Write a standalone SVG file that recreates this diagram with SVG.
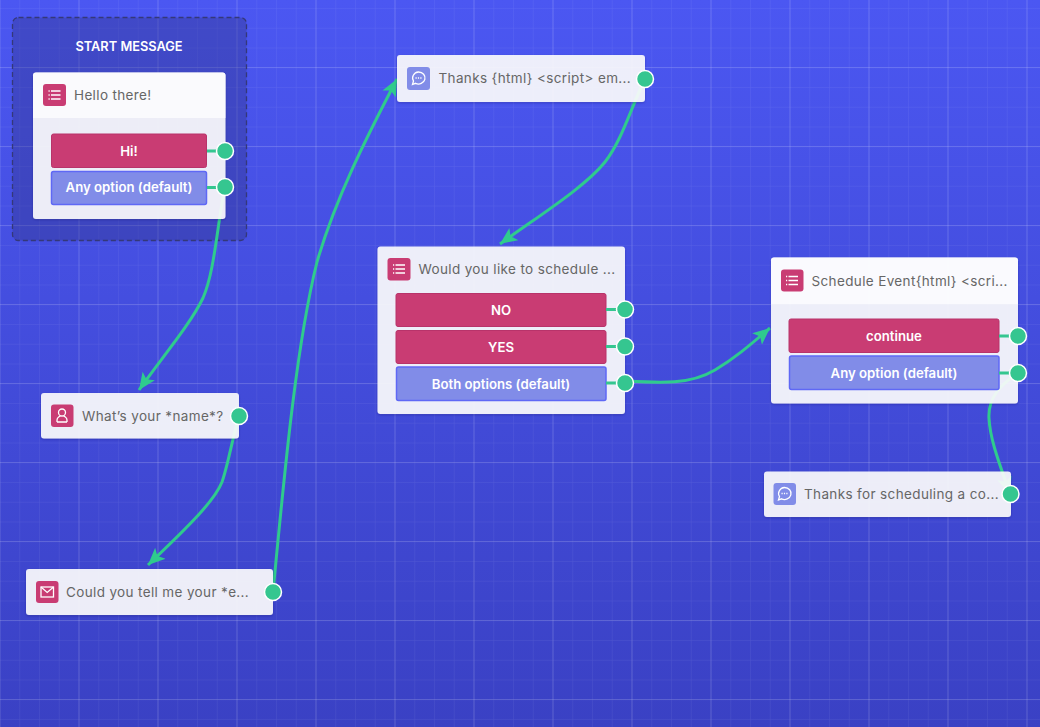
<svg xmlns="http://www.w3.org/2000/svg" width="1040" height="727" viewBox="0 0 1040 727">
<style>
.t{font-family:"Inter","Liberation Sans",sans-serif;font-size:13.5px;fill:#666;letter-spacing:.36px}
.b{font-family:"Inter","Liberation Sans",sans-serif;font-size:13.2px;font-weight:600;fill:#fff;text-anchor:middle}
.card{fill:#fff;fill-opacity:.89;filter:url(#sh)}
.top{fill:#fff;fill-opacity:.72}
.red{fill:#c93c73;stroke:#b8336a;stroke-width:1}
.blu{fill:#818ce8;stroke:#5f68f5;stroke-width:1.5}
.ired{fill:#c93c73}.iblu{fill:#818ce8}
.h{fill:#35c690;stroke:#fff;stroke-width:1.5}
.stub{stroke:#35c690;stroke-width:3;fill:none}
.c{stroke:#2fcb8d;stroke-width:3;fill:none;marker-end:url(#arr)}
.i{stroke:#fff;stroke-width:1.3;fill:none}
</style>
<defs>
<linearGradient id="bg" x1="0" y1="0" x2="0" y2="1"><stop offset="0" stop-color="#4b57f2"/><stop offset="1" stop-color="#3a41c4"/></linearGradient>
<pattern id="minor" width="19.75" height="19.75" patternUnits="userSpaceOnUse" x="-0.5" y="8">
<path d="M0 0V19.75M0 0H19.75" stroke="#fff" stroke-opacity=".09" stroke-width="1" fill="none"/></pattern>
<pattern id="major" width="79" height="79" patternUnits="userSpaceOnUse" x="-0.5" y="-12">
<path d="M0 0V79M0 0H79" stroke="#fff" stroke-opacity=".27" stroke-width="1" fill="none"/></pattern>
<marker id="arr" markerUnits="userSpaceOnUse" markerWidth="20" markerHeight="18" refX="17" refY="8" orient="auto">
<path d="M17 8L0 0.5L4 8L0 15.500Z" fill="#2fcb8d"/></marker>
<filter id="sh" x="-5%" y="-5%" width="110%" height="115%"><feDropShadow dx="0" dy="1" stdDeviation="1" flood-color="#20246a" flood-opacity=".35"/></filter>
<g id="list"><path class="i" d="M-3.500 -4H6M-3.500 0H6M-3.500 4H6M-6 -4H-4.800M-6 0H-4.800M-6 4H-4.800"/></g>
<g id="chat"><path class="i" d="M0 -6.500A6.500 6 0 1 1 -3 4.800L-6 6L-5 2.500A6.500 6 0 0 1 0 -6.500Z"/><path d="M-3 -.500H-1.800M-.6 -.500H.6M1.800 -.500H3" stroke="#fff" stroke-width="1.300" fill="none"/></g>
</defs>
<rect width="1040" height="727" fill="url(#bg)"/>
<rect width="1040" height="727" fill="url(#minor)"/>
<rect width="1040" height="727" fill="url(#major)"/>

<g id="start-region">
<rect x="12.500" y="17.500" width="234" height="223" rx="6" fill="#2e3180" fill-opacity=".36" stroke="#343878" stroke-width="1.300" stroke-dasharray="5 3"/>
<text x="129" y="51" font-family="Inter,'Liberation Sans',sans-serif" font-size="12.800" font-weight="600" fill="#fff" text-anchor="middle">START MESSAGE</text>
</g>

<g id="connectors">
<path class="c" d="M225 187C217 225 215 270 203 298C190 325 160 360 139 390"/>
<path class="c" d="M239 416C232 440 228 465 222 482C215 500 190 525 148 565"/>
<path class="c" d="M273 592C283 490 295 350 317 262C335 200 365 140 397 79"/>
<path class="c" d="M645 79C630 110 622 140 605 162C585 187 540 215 500 244"/>
<path class="c" d="M625 381C660 383 690 385 715 370C735 358 750 345 770 328"/>
<path class="c" d="M1018 373C1000 385 988 398 989 418C990 440 1000 465 1010 494"/>
</g>

<g id="node-hello">
<rect class="card" x="33" y="72.500" width="192.500" height="146.500" rx="3"/>
<path class="top" d="M33 118V75.500a3 3 0 0 1 3-3H222.500a3 3 0 0 1 3 3V118Z"/>
<rect class="ired" x="43" y="84" width="23" height="22" rx="3"/>
<use href="#list" x="54.500" y="95"/>
<text class="t" x="74" y="100">Hello there!</text>
<rect class="red" x="51.500" y="134" width="155" height="33.500" rx="2"/>
<text class="b" x="129" y="155.500">Hi!</text>
<rect class="blu" x="51.500" y="171.500" width="155" height="33" rx="2"/>
<text class="b" x="129" y="191.500">Any option (default)</text>
<path class="stub" d="M207 151H225M207 187.500H225"/>
<circle class="h" cx="225" cy="151" r="8.500"/>
<circle class="h" cx="225" cy="187" r="8.500"/>
</g>

<g id="node-thanks">
<rect class="card" x="397" y="55" width="248" height="47" rx="3"/>
<rect class="iblu" x="407" y="67" width="23" height="23" rx="3"/>
<use href="#chat" x="418.500" y="78.500"/>
<text class="t" x="438.500" y="83">Thanks {html} &lt;script&gt; em...</text>
<circle class="h" cx="645" cy="79" r="8.500"/>
</g>

<g id="node-schedule-question">
<rect class="card" x="377.500" y="246.500" width="247.500" height="167.500" rx="3"/>
<rect class="ired" x="387.500" y="258" width="23" height="22.500" rx="3"/>
<use href="#list" x="399" y="269"/>
<text class="t" x="418.500" y="274">Would you like to schedule ...</text>
<rect class="red" x="396" y="293.500" width="210" height="33" rx="2"/>
<text class="b" x="501" y="314.500">NO</text>
<rect class="red" x="396" y="330.500" width="210" height="33" rx="2"/>
<text class="b" x="501" y="351.500">YES</text>
<rect class="blu" x="396.500" y="367" width="209.500" height="33.500" rx="2"/>
<text class="b" x="501" y="388.500">Both options (default)</text>
<path class="stub" d="M606 309.500H625M606 346.500H625M606 383H625"/>
<circle class="h" cx="625" cy="309.500" r="8.500"/>
<circle class="h" cx="625" cy="346.500" r="8.500"/>
<circle class="h" cx="625" cy="383" r="8.500"/>
</g>

<g id="node-schedule-event">
<rect class="card" x="771" y="257.500" width="247" height="146" rx="3"/>
<path class="top" d="M771 304V260.500a3 3 0 0 1 3-3H1015a3 3 0 0 1 3 3V304Z"/>
<rect class="ired" x="781" y="269.500" width="22.500" height="22" rx="3"/>
<use href="#list" x="792" y="280.500"/>
<text class="t" x="811.500" y="286">Schedule Event{html} &lt;scri...</text>
<rect class="red" x="789" y="319" width="210" height="33.500" rx="2"/>
<text class="b" x="894" y="340.500">continue</text>
<rect class="blu" x="789.500" y="356" width="209.500" height="33.500" rx="2"/>
<text class="b" x="894" y="377.500">Any option (default)</text>
<path class="stub" d="M999 336H1018M999 373H1018"/>
<circle class="h" cx="1018" cy="336" r="8.500"/>
<circle class="h" cx="1018" cy="373" r="8.500"/>
</g>

<g id="node-thanks-scheduling">
<rect class="card" x="764" y="471.500" width="247" height="45.500" rx="3"/>
<rect class="iblu" x="773.500" y="483" width="22.500" height="22" rx="3"/>
<use href="#chat" x="784.500" y="494"/>
<text class="t" x="804" y="499">Thanks for scheduling a co...</text>
<circle class="h" cx="1010.500" cy="494" r="8.500"/>
</g>

<g id="node-name">
<rect class="card" x="41" y="393" width="198" height="45.500" rx="3"/>
<rect class="ired" x="51" y="404.500" width="22.500" height="22.500" rx="3"/>
<circle class="i" cx="62" cy="412.500" r="3.500"/>
<path class="i" d="M57 422v-1.500c0-2.500 2-4 3.500-4.500M67 422v-1.500c0-2.500-2-4-3.500-4.500M57 422H67"/>
<text class="t" x="82" y="421">What’s your *name*?</text>
<circle class="h" cx="239" cy="416" r="8.500"/>
</g>

<g id="node-email">
<rect class="card" x="26" y="569" width="247" height="46" rx="3"/>
<rect class="ired" x="36" y="581" width="22.500" height="22" rx="3"/>
<rect class="i" x="41" y="587" width="12.500" height="10"/>
<path class="i" d="M41 587L47.200 592.500L53.500 587"/>
<text class="t" x="66" y="597">Could you tell me your *e...</text>
<circle class="h" cx="273" cy="592" r="8.500"/>
</g>
</svg>
